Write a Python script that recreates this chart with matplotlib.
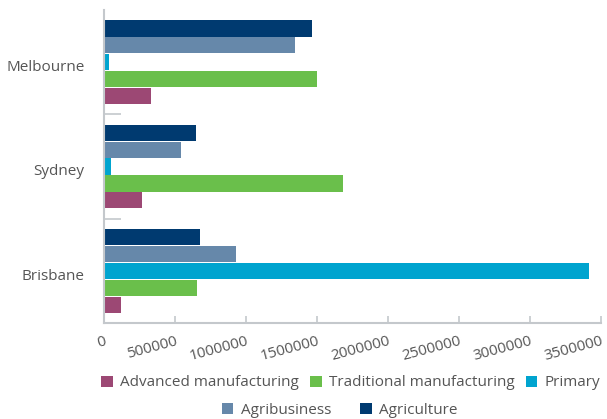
import matplotlib
matplotlib.use("Agg")
import matplotlib.pyplot as plt
import numpy as np

plt.rcParams["font.family"] = ["Open Sans", "DejaVu Sans"]

cities = ["Melbourne", "Sydney", "Brisbane"]
series = ["Advanced manufacturing", "Traditional manufacturing", "Primary",
          "Agribusiness", "Agriculture"]
advanced = [331000, 268000, 120000]
traditional = [1500000, 1683000, 655000]
primary = [35000, 49000, 3415000]
agribusiness = [1345000, 542000, 930000]
agriculture = [1465000, 648000, 676000]
colors = ["#9c4874", "#6abf4b", "#00a4cf", "#6688aa", "#003a70"]

values = [advanced, traditional, primary, agribusiness, agriculture]
text_col = "#555555"
axis_col = "#c4c8cc"

fig = plt.figure(figsize=(6.07, 4.19), dpi=100)
ax = fig.add_axes([0.1713, 0.229, 0.8188, 0.747])

y = np.arange(len(cities))
step, h = 0.162, 0.155
handles = []
for i, (vals, col) in enumerate(zip(values, colors)):
    # advanced manufacturing sits lowest in each group, agriculture on top
    off = (2 - i) * step
    b = ax.barh(y + off, vals, height=h, color=col, label=series[i])
    handles.append(b)

ax.set_ylim(2.5, -0.5)
ax.set_xlim(0, 3500000)
ax.set_yticks(y + 0.03)
ax.set_yticklabels(cities)
ax.set_yticks([0.5, 1.5], minor=True)
ax.tick_params(axis="y", which="major", length=0, pad=14, labelsize=11,
               labelcolor=text_col)
ax.tick_params(axis="y", which="minor", direction="in", length=12, width=1.2,
               color=axis_col)

xt = np.arange(0, 3500001, 500000)
ax.set_xticks(xt)
ax.set_xticklabels([str(v) for v in xt], rotation=15, ha="right",
                   rotation_mode="anchor")
ax.tick_params(axis="x", direction="in", length=5, width=1.2, color=axis_col,
               labelsize=11, labelcolor=text_col, pad=8)

for s in ["top", "right"]:
    ax.spines[s].set_visible(False)
for s in ["left", "bottom"]:
    ax.spines[s].set_color(axis_col)
    ax.spines[s].set_linewidth(1.5)

leg_kw = dict(frameon=False, fontsize=11, labelcolor=text_col,
              handlelength=0.75, handleheight=0.75, handletextpad=0.5,
              borderpad=0)
fig.legend(handles[:3], series[:3], loc="center", columnspacing=0.7,
           bbox_to_anchor=(0.578, 0.086), ncol=3, **leg_kw)
fig.legend(handles[3:], series[3:], loc="center", columnspacing=1.9,
           bbox_to_anchor=(0.56, 0.021), ncol=2, **leg_kw)

fig.savefig("out.png", dpi=100)
